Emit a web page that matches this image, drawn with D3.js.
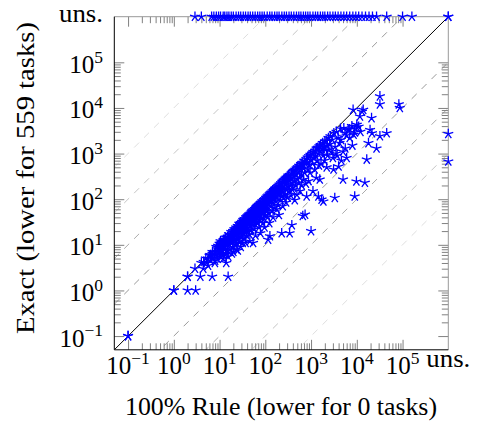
<!DOCTYPE html>
<html>
<head>
<meta charset="utf-8">
<script src="https://cdn.jsdelivr.net/npm/d3@7"></script>
<style>
  body { margin: 0; background: #fff; }
  text { font-family: "Liberation Serif", "Times New Roman", serif; fill: #000; }
</style>
</head>
<body>
<svg id="chart" width="477" height="429"></svg>
<script>
// "uns." (unsolved) is drawn at 10^6 on both axes
var UNS = 1e6;

var majorTicks = [0.1, 1, 10, 100, 1000, 10000, 100000];
var tickExp = ["\u22121", "0", "1", "2", "3", "4", "5"];
var minorSteps = [2, 3, 4, 5, 6, 7, 8, 9];
var guideDecades = [1, 2, 3, 4];

// [100% Rule, Exact] in seconds
var lowRange = [[0.1,0.1],[0.1,0.1],[1,1],[1,1],[2,1],[3,1],[2,2],[2,2],[3.8,2],[6.9,2],[15.4,2],
  [2.9,3],[4.4,3],[4,4],[5.2,4],[7.9,4],[14,4],[4.5,4.2],[5,5],[5.6,5],[6,5.8],[6.3,6],[6.3,4.5],
  [7,6.3],[7,5],[7,7],[5.6,3.5],[7.9,7],[8,6],[8,4.5],[8.5,9],[8.9,8.9],[9,8],[9,5],[9.5,7],[10,6],[9.3,9.5]];

var midRange = [
  [10,10.5],[10,9],[10,7],[10.5,12],[10.5,8],[10.5,5.5],[11,11],[11,9.5],[11,6.5],[11.5,10],[11.5,7.5],[12,12.5],[12,11],[12,6],[12,5],[12.5,9],[12.5,13],
  [13,13],[13,11],[13,8],[13.5,14.5],[14,12],[14,9.5],[14,6.5],[14.5,10.5],[15,15],[15,13],[15,7.5],[15.5,11],[15.5,5.5],[13.5,6],
  [16,17],[16,14],[16.5,10],[17,16],[17,12],[17,8],[18,19],[18,15],[18,11],[18.5,6.5],[19,17],[19,13],[19.5,9],[20,20],[20,15],[20,7],
  [21,22],[21,18],[21,13],[22,20],[22,16],[22,10],[23,24],[23,19],[23,14],[23,8],[24,22],[24,17],[24,11],[25,26],[25,20],[25,13],[25,7.5],
  [26,25],[26,21],[27,29],[27,23],[27,16],[28,27],[28,19],[28,12],[29,30],[29,24],[29,9],[30,28],[30,21],[30,15],[31,32],[31,26],[32,18],[32,11],
  [33,35],[33,29],[33,22],[34,32],[34,25],[34,14],[35,37],[35,30],[36,33],[36,26],[36,19],[37,11],[38,40],[38,32],[38,23],[39,36],[39,16],[40,42],[40,30],[40,20],
  [41,38],[42,44],[42,33],[42,24],[43,40],[43,28],[44,46],[44,35],[45,41],[45,30],[45,17],[46,12],[47,48],[47,37],[47,26],[48,43],[48,32],[49,21],[50,52],[50,40],
  [51,47],[52,55],[52,36],[53,28],[54,50],[54,11],[55,58],[55,42],[56,33],[57,53],[57,22],[58,46],[59,61],[59,38],[60,28],[61,56],[61,16],[62,44],[63,65],[63,32],
  [64,60],[65,68],[65,48],[66,38],[67,62],[68,72],[68,52],[69,30],[70,66],[70,42],[72,76],[72,56],[73,24],[74,68],[75,46],[76,80],[76,35],[78,62],[78,18],
  [80,84],[80,70],[81,52],[82,40],[84,78],[85,62],[86,90],[87,48],[88,30],[90,85],[90,68],[92,55],[93,96],[94,38],[95,78],[96,24],[98,100],[99,64],[100,45],
  [102,96],[104,108],[105,75],[106,55],[108,88],[110,115],[110,65],[112,40],[114,100],[115,13],[116,120],[118,80],[119,50],[120,105],[122,30],[124,128],[125,90],[126,15.5],
  [128,120],[130,135],[132,95],[134,70],[136,140],[138,110],[140,55],[142,125],[144,150],[146,85],[148,40],[150,130],[152,105],[154,160],[156,65],[158,140],
  [160,150],[163,170],[166,120],[170,90],[172,175],[175,140],[178,60],[180,185],[183,110],[186,155],[190,75],[192,195],[195,130],[198,45],[200,170],
  [205,210],[208,180],[212,140],[215,95],[220,225],[225,160],[228,18],[230,120],[235,240],[238,190],[240,70],[244,150],[248,255],[250,105],
  [255,230],[260,265],[265,180],[270,130],[275,280],[280,210],[285,85],[290,295],[295,160],[300,240],[305,110],[310,310],[315,190],
  [320,330],[325,260],[335,150],[340,18],[345,340],[350,200],[360,290],[365,120],[375,370],[380,27],[385,230],[392,160],[398,400],
  [405,180],[412,330],[420,420],[430,260],[440,95],[450,440],[460,200],[470,350],[480,470],[490,125],[495,280],
  [510,500],[520,390],[535,230],[550,540],[560,300],[575,150],[590,460],[600,590],[615,350],[625,200],[630,560],
  [640,620],[660,43],[680,270],[690,480],[710,700],[720,380],[740,46],[750,600],[770,220],[790,760],[800,115],
  [820,640],[840,820],[860,450],[880,250],[900,880],[920,560],[950,380],[970,940],[1000,20],[1000,720]];

var highRange = [
  [1050,1000],[1080,600],[1100,150],[1120,1080],[1150,800],[1200,450],[1230,1150],[1250,900],
  [1300,295],[1320,1300],[1350,700],[1400,1350],[1420,1000],[1450,115],[1480,550],[1520,1450],[1550,270],[1560,1100],
  [1620,1550],[1650,600],[1700,98],[1720,1250],[1800,1700],[1830,900],[1860,89],[1900,1400],[1950,700],[2000,1850],
  [2050,1200],[2150,1900],[2200,500],[2250,1500],[2300,900],[2400,2200],[2450,1200],
  [2550,1600],[2650,2400],[2750,1100],[2900,2000],[3000,800],[3100,450],[3150,2800],
  [3300,107],[3350,1400],[3500,1000],[3600,3000],[3700,900],[3900,2200],[4000,520],
  [4200,1700],[4400,3500],[4500,2000],[4600,700],[5000,270],[5000,1100],[5200,3600],[5500,2800],[5600,1300],[6000,800],
  [6000,2500],[6500,3300],[7000,2200],[7000,3400],[7800,4000],[8000,1500],[8300,9100],[8500,2600],[9000,115],[9000,2900],[9800,245],
  [10000,4300],[10000,3800],[11000,3900],[11700,6500],[12000,3000],[13000,8300],[13800,9100],[15000,230],[16500,740],
  [18000,1700],[19500,3300],[21000,6000],[21500,2800],[27000,1300],[32000,18000],[32000,12000],[32000,2400],[45000,2800],
  [83000,12000],[87000,10000]];

// Rule times of tasks that Exact left unsolved
var exactUnsolved = [2.9, 4, 6.7, 7.5, 8.5, 9.5, 10.5, 12, 13, 14.5, 16, 18, 20, 23, 26, 29, 33, 37, 42, 47, 53, 60,
  68, 76, 85, 95, 110, 125, 140, 160, 180, 200, 230, 260, 290, 330, 370, 420, 480, 540, 600, 680, 760, 850, 950,
  1100, 1250, 1400, 1600, 1800, 2000, 2300, 2600, 3000, 3400, 3900, 4500, 5200, 6000, 7000, 8200, 9500, 11000,
  13000, 15500, 18500, 22000, 27000, 45000, 100000, 160000];
// Exact times of tasks that the Rule left unsolved
var ruleUnsolved = [2700, 670];
var bothUnsolved = 2;

var svg = d3.select("#chart");
var plotL = 114.3, plotR = 448.3, plotT = 16.7, plotB = 349.8;
var lo = 0.05;

var x = d3.scaleLog().domain([lo, UNS]).range([plotL, plotR]);
var y = d3.scaleLog().domain([lo, UNS]).range([plotB, plotT]);

svg.append("rect").attr("width", 477).attr("height", 429).attr("fill", "#fff");

svg.append("defs").append("clipPath").attr("id", "plotClip")
  .append("rect").attr("x", plotL).attr("y", plotT)
  .attr("width", plotR - plotL).attr("height", plotB - plotT);

// dashed factor-of-10^k lines
var guideColor = ["#999", "#aaa", "#c4c4c4", "#dedede"];
var guides = svg.append("g").attr("clip-path", "url(#plotClip)");
guideDecades.forEach(function (k, i) {
  [1, -1].forEach(function (s) {
    var f = Math.pow(10, s * k);
    guides.append("line")
      .attr("x1", x(lo)).attr("y1", y(lo * f))
      .attr("x2", x(UNS)).attr("y2", y(UNS * f))
      .attr("stroke", guideColor[i])
      .attr("stroke-width", 1)
      .attr("stroke-dasharray", "7,7");
  });
});
guides.append("line")
  .attr("x1", x(lo)).attr("y1", y(lo))
  .attr("x2", x(UNS)).attr("y2", y(UNS))
  .attr("stroke", "#000").attr("stroke-width", 1);

// ticks on all four sides, pointing inwards
var minorTicks = [];
majorTicks.slice(0, -1).forEach(function (d) {
  minorSteps.forEach(function (m) { minorTicks.push(m * d); });
});

function ticks(axisFn, scale, vals, size, transform) {
  svg.append("g").attr("transform", transform)
    .call(axisFn(scale).tickValues(vals).tickSize(size).tickSizeOuter(0).tickFormat(""))
    .call(function (g) { g.select(".domain").remove(); })
    .selectAll("line").attr("stroke", "#808080").attr("stroke-width", 1);
}
[[majorTicks, -10], [minorTicks, -6.5]].forEach(function (t) {
  ticks(d3.axisBottom, x, t[0], t[1], "translate(0," + plotB + ")");
  ticks(d3.axisTop, x, t[0], t[1], "translate(0," + plotT + ")");
  ticks(d3.axisLeft, y, t[0], t[1], "translate(" + plotL + ",0)");
  ticks(d3.axisRight, y, t[0], t[1], "translate(" + plotR + ",0)");
});

// frame
svg.append("line").attr("x1", plotL).attr("y1", plotT).attr("x2", plotR).attr("y2", plotT).attr("stroke", "#999");
svg.append("line").attr("x1", plotR).attr("y1", plotT).attr("x2", plotR).attr("y2", plotB).attr("stroke", "#999");
svg.append("line").attr("x1", plotL).attr("y1", plotT).attr("x2", plotL).attr("y2", plotB).attr("stroke", "#000");
svg.append("line").attr("x1", plotL).attr("y1", plotB).attr("x2", plotR).attr("y2", plotB).attr("stroke", "#000");

// tick labels
var xl = svg.append("g").selectAll("text").data(majorTicks).enter().append("text")
  .attr("x", function (d) { return x(d); }).attr("y", 374)
  .attr("text-anchor", "middle").attr("font-size", 25);
xl.append("tspan").text("10");
xl.append("tspan").attr("dy", -10.3).attr("font-size", 17.5).text(function (d, i) { return tickExp[i]; });
svg.append("text").attr("x", x(UNS)).attr("y", 367).attr("text-anchor", "middle")
  .attr("font-size", 25).attr("textLength", 44).attr("lengthAdjust", "spacingAndGlyphs").text("uns.");

var yl = svg.append("g").selectAll("text").data(majorTicks).enter().append("text")
  .attr("x", 103).attr("y", function (d) { return y(d) + 10.5; })
  .attr("text-anchor", "end").attr("font-size", 25);
yl.append("tspan").text("10");
yl.append("tspan").attr("dy", -10.3).attr("font-size", 17.5).text(function (d, i) { return tickExp[i]; });
svg.append("text").attr("x", 103).attr("y", y(UNS) + 5.4).attr("text-anchor", "end")
  .attr("font-size", 25).attr("textLength", 44).attr("lengthAdjust", "spacingAndGlyphs").text("uns.");

// axis labels
svg.append("text").attr("x", 281).attr("y", 415).attr("text-anchor", "middle")
  .attr("font-size", 25).attr("textLength", 312).attr("lengthAdjust", "spacingAndGlyphs")
  .text("100% Rule (lower for 0 tasks)");
svg.append("text").attr("transform", "translate(34,178) rotate(-90)").attr("text-anchor", "middle")
  .attr("font-size", 25).attr("textLength", 312).attr("lengthAdjust", "spacingAndGlyphs")
  .text("Exact (lower for 559 tasks)");

// points
var points = lowRange.concat(midRange, highRange)
  .concat(exactUnsolved.map(function (v) { return [v, UNS]; }))
  .concat(ruleUnsolved.map(function (v) { return [UNS, v]; }))
  .concat(d3.range(bothUnsolved).map(function () { return [UNS, UNS]; }));

var r = 5.2;
var star = d3.range(5).map(function (i) {
  var a = -Math.PI / 2 + i * 2 * Math.PI / 5;
  return "M0,0L" + (r * Math.cos(a)).toFixed(2) + "," + (r * Math.sin(a)).toFixed(2);
}).join("");

svg.append("g").selectAll("path").data(points).enter().append("path")
  .attr("d", star)
  .attr("transform", function (d) { return "translate(" + x(d[0]) + "," + y(d[1]) + ")"; })
  .attr("fill", "none")
  .attr("stroke", "#0000ff")
  .attr("stroke-width", 1.3);
</script>
</body>
</html>
